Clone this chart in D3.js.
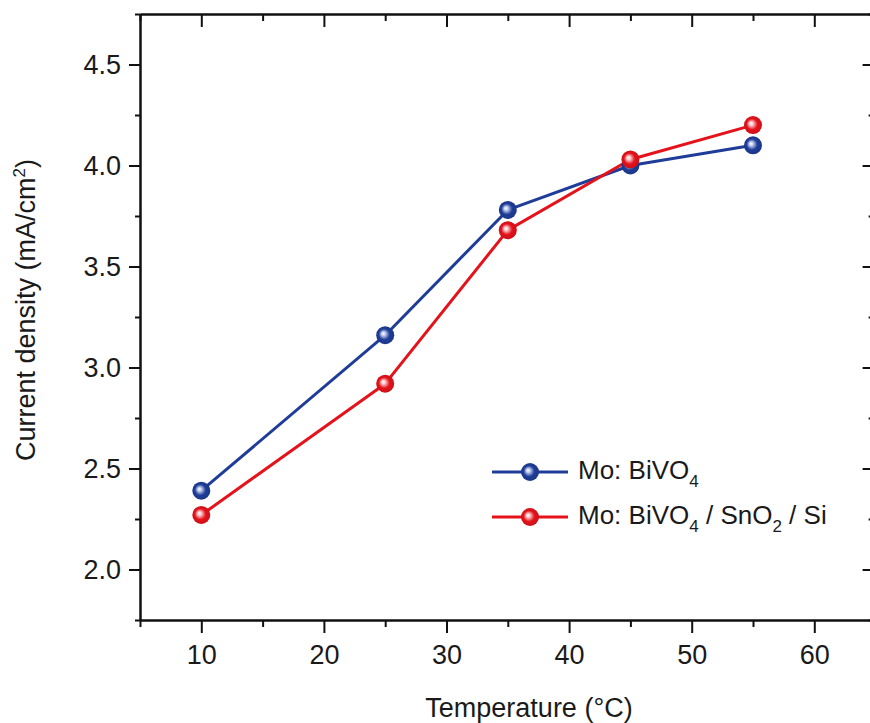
<!DOCTYPE html>
<html>
<head>
<meta charset="utf-8">
<script src="https://cdn.jsdelivr.net/npm/d3@7"></script>
<style>
  html, body { margin: 0; padding: 0; background: #fff; }
  svg { display: block; font-family: "Liberation Sans", Arial, sans-serif; }
</style>
</head>
<body>
<svg id="chart" width="870" height="723"></svg>
<script>
// Photocurrent density vs. temperature for two photoanodes
const temperatures = [10, 25, 35, 45, 55];
const bivo4 = [2.39, 3.16, 3.78, 4.00, 4.10];
const bivo4SnO2Si = [2.27, 2.92, 3.68, 4.03, 4.20];
const xTicks = [10, 20, 30, 40, 50, 60];
const xMinor = [5, 15, 25, 35, 45, 55, 65];
const yTicks = [2.0, 2.5, 3.0, 3.5, 4.0, 4.5];
const yMinor = [1.75, 2.25, 2.75, 3.25, 3.75, 4.25, 4.75];

const series = [
  { name: "bivo4", values: bivo4, color: "#1f3d98", light: "#c9d3f2" },
  { name: "het", values: bivo4SnO2Si, color: "#e5121b", light: "#fbd0d3" }
];

const svg = d3.select("#chart");
const plotLeft = 140, plotRight = 875.6, plotTop = 14, plotBottom = 620;

const x = d3.scaleLinear().domain([5, 65]).range([plotLeft, plotRight]);
const y = d3.scaleLinear().domain([1.75, 4.75]).range([plotBottom, plotTop]);

// sphere-like marker shading
const defs = svg.append("defs");
series.forEach(s => {
  const g = defs.append("radialGradient")
    .attr("id", "grad-" + s.name)
    .attr("cx", "0.5").attr("cy", "0.5").attr("r", "0.55")
    .attr("fx", "0.38").attr("fy", "0.4");
  g.append("stop").attr("offset", "0").attr("stop-color", "#ffffff");
  g.append("stop").attr("offset", "0.18").attr("stop-color", s.light);
  g.append("stop").attr("offset", "0.55").attr("stop-color", s.color);
  g.append("stop").attr("offset", "1").attr("stop-color", d3.color(s.color).darker(0.4));
});

function styleAxis(g) {
  g.select(".domain").attr("stroke", "#111").attr("stroke-width", 2);
  g.selectAll(".tick line").attr("stroke", "#111").attr("stroke-width", 2);
  g.selectAll(".tick text").attr("fill", "#1a1a1a").attr("font-size", 27)
    .attr("font-family", "Liberation Sans, Arial, sans-serif");
}

// bottom axis
svg.append("g").attr("transform", `translate(0,${plotBottom})`)
  .call(d3.axisBottom(x).tickValues(xMinor).tickSize(7).tickFormat("").tickSizeOuter(0))
  .call(styleAxis);
svg.append("g").attr("transform", `translate(0,${plotBottom})`)
  .call(d3.axisBottom(x).tickValues(xTicks).tickSize(13).tickPadding(12).tickSizeOuter(0).tickFormat(d3.format("d")))
  .call(styleAxis);

// top axis (ticks inward)
svg.append("g").attr("transform", `translate(0,${plotTop})`)
  .call(d3.axisTop(x).tickValues(xMinor).tickSize(-7).tickFormat("").tickSizeOuter(0))
  .call(styleAxis);
svg.append("g").attr("transform", `translate(0,${plotTop})`)
  .call(d3.axisTop(x).tickValues(xTicks).tickSize(-13).tickFormat("").tickSizeOuter(0))
  .call(styleAxis);

// left axis
svg.append("g").attr("transform", `translate(${plotLeft},0)`)
  .call(d3.axisLeft(y).tickValues(yMinor).tickSize(5).tickFormat("").tickSizeOuter(0))
  .call(styleAxis);
svg.append("g").attr("transform", `translate(${plotLeft},0)`)
  .call(d3.axisLeft(y).tickValues(yTicks).tickSize(11).tickPadding(8).tickSizeOuter(0).tickFormat(d3.format(".1f")))
  .call(styleAxis);

// right axis (ticks inward)
svg.append("g").attr("transform", `translate(${plotRight},0)`)
  .call(d3.axisRight(y).tickValues(yMinor).tickSize(-7).tickFormat("").tickSizeOuter(0))
  .call(styleAxis);
svg.append("g").attr("transform", `translate(${plotRight},0)`)
  .call(d3.axisRight(y).tickValues(yTicks).tickSize(-13).tickFormat("").tickSizeOuter(0))
  .call(styleAxis);

// axis titles
svg.append("text")
  .attr("x", 529).attr("y", 717)
  .attr("text-anchor", "middle")
  .attr("font-size", 27).attr("fill", "#1a1a1a")
  .text("Temperature (°C)");

const yTitle = svg.append("text")
  .attr("transform", "translate(35,310) rotate(-90)")
  .attr("text-anchor", "middle")
  .attr("font-size", 27).attr("fill", "#1a1a1a");
yTitle.append("tspan").text("Current density (mA/cm");
yTitle.append("tspan").attr("font-size", 17).attr("dy", -10).text("2");
yTitle.append("tspan").attr("dy", 10).text(")");

// lines and markers
const line = d3.line().x((d, i) => x(temperatures[i])).y(d => y(d));
series.forEach(s => {
  svg.append("path")
    .datum(s.values)
    .attr("fill", "none")
    .attr("stroke", s.color)
    .attr("stroke-width", 3)
    .attr("stroke-linejoin", "round")
    .attr("d", line);
});
series.forEach(s => {
  svg.append("g").selectAll("circle")
    .data(s.values)
    .join("circle")
    .attr("cx", (d, i) => x(temperatures[i]))
    .attr("cy", d => y(d))
    .attr("r", 9)
    .attr("fill", `url(#grad-${s.name})`);
});

// legend
const legend = svg.append("g");
const legendRows = [
  { s: series[0], y: 472, parts: [["Mo: BiVO", 0], ["4", 1]] },
  { s: series[1], y: 517, parts: [["Mo: BiVO", 0], ["4", 1], [" / SnO", 0], ["2", 1], [" / Si", 0]] }
];
legendRows.forEach(r => {
  legend.append("line")
    .attr("x1", 492).attr("x2", 568)
    .attr("y1", r.y).attr("y2", r.y)
    .attr("stroke", r.s.color).attr("stroke-width", 3);
  legend.append("circle")
    .attr("cx", 530).attr("cy", r.y).attr("r", 9)
    .attr("fill", `url(#grad-${r.s.name})`);
  const t = legend.append("text")
    .attr("x", 578).attr("y", r.y + 7)
    .attr("font-size", 26).attr("fill", "#1a1a1a");
  let shifted = false;
  r.parts.forEach(([txt, sub]) => {
    const span = t.append("tspan").text(txt);
    if (sub && !shifted) { span.attr("font-size", 17).attr("dy", 8); shifted = true; }
    else if (!sub && shifted) { span.attr("dy", -8); shifted = false; }
  });
});
</script>
</body>
</html>
